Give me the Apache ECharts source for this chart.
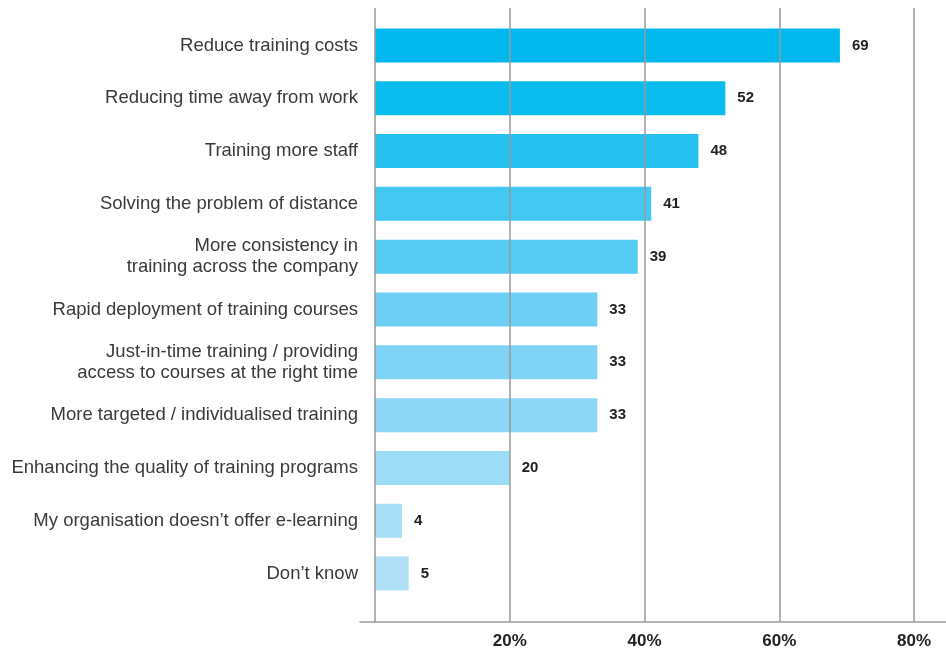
<!DOCTYPE html>
<html lang="en">
<head>
    <meta http-equiv="Content-Type" content="text/html; charset=UTF-8">
    <title>E-learning benefits</title>
    <script type="text/javascript" src="https://cdn.jsdelivr.net/npm/echarts@6/dist/echarts.min.js"></script>
    <style>
        html, body { margin: 0; padding: 0; background: #fff; }
        #main { width: 946px; height: 652px; }
    </style>
</head>
<body>
<div id="main"></div>
<script type="text/javascript">
    // data
    var categories = [
        'Reduce training costs',
        'Reducing time away from work',
        'Training more staff',
        'Solving the problem of distance',
        'More consistency in\ntraining across the company',
        'Rapid deployment of training courses',
        'Just-in-time training / providing\naccess to courses at the right time',
        'More targeted / individualised training',
        'Enhancing the quality of training programs',
        'My organisation doesn\u2019t offer e-learning',
        'Don\u2019t know'
    ];
    var values = [69, 52, 48, 41, 39, 33, 33, 33, 20, 4, 5];
    var tickValues = [20, 40, 60, 80];
    var gridValues = [0, 20, 40, 60, 80];

    // shades, top to bottom
    var barColors = ['#00b7ee', '#0abdee', '#26c2f0', '#42c8f2', '#56cbf3', '#6dcff4',
                     '#7fd3f5', '#8cd6f6', '#9ddcf7', '#a7dff7', '#afe0f7'];

    var font = '"Liberation Sans", Arial, sans-serif';
    var pxPerUnit = 539 / 80;

    var chart = echarts.init(document.getElementById('main'));

    chart.setOption({
        animation: false,
        grid: [
            // frame grid: gridlines + bottom axis (axis line runs a bit wider)
            { left: 360, right: 0, top: 8, bottom: 30 },
            // bar grid
            { left: 375, right: 32, top: 19, bottom: 52 }
        ],
        xAxis: [
            {
                gridIndex: 0,
                type: 'value',
                min: -15 / pxPerUnit,
                max: 80 + 32 / pxPerUnit,
                axisLine: { show: true, lineStyle: { color: '#9a9a9a', width: 1.5 } },
                axisTick: { show: false },
                splitLine: { show: false },
                axisLabel: {
                    customValues: tickValues,
                    formatter: '{value}%',
                    color: '#222',
                    fontFamily: font,
                    fontWeight: 'bold',
                    fontSize: 17,
                    margin: 11
                }
            },
            {
                gridIndex: 1,
                type: 'value',
                min: 0,
                max: 80,
                show: false
            }
        ],
        yAxis: [
            { gridIndex: 0, type: 'value', min: 0, max: 1, show: false },
            {
                gridIndex: 1,
                type: 'category',
                inverse: true,
                data: categories,
                axisLine: { show: false },
                axisTick: { show: false },
                axisLabel: {
                    color: '#3a3a3a',
                    fontFamily: font,
                    fontSize: 18.5,
                    lineHeight: 21,
                    margin: 17
                }
            }
        ],
        series: [
            {
                type: 'scatter',
                xAxisIndex: 0,
                yAxisIndex: 0,
                data: [],
                silent: true,
                markLine: {
                    silent: true,
                    symbol: 'none',
                    label: { show: false },
                    lineStyle: { color: '#9a9a9a', width: 1.5, type: 'solid' },
                    data: gridValues.map(function (v) { return { xAxis: v }; })
                }
            },
            {
                type: 'bar',
                xAxisIndex: 1,
                yAxisIndex: 1,
                barWidth: 34,
                z: 3,
                data: values.map(function (v, i) {
                    return { value: v, itemStyle: { color: barColors[i] } };
                }),
                label: {
                    show: true,
                    position: 'right',
                    distance: 12,
                    color: '#222',
                    fontFamily: font,
                    fontWeight: 'bold',
                    fontSize: 15
                }
            }
        ]
    });
</script>
</body>
</html>
